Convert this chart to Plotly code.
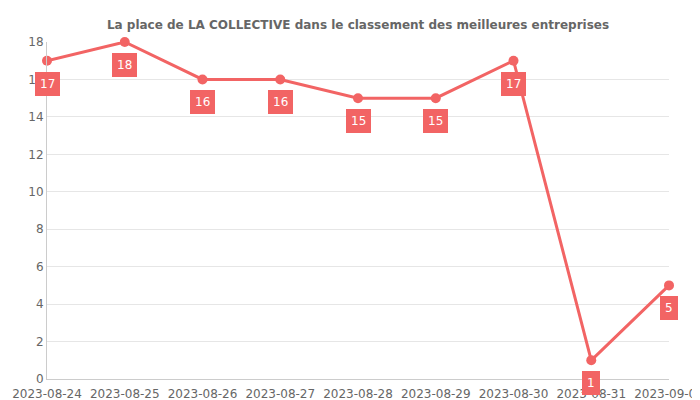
import plotly.graph_objects as go

dates = ["2023-08-24","2023-08-25","2023-08-26","2023-08-27","2023-08-28","2023-08-29","2023-08-30","2023-08-31","2023-09-01"]
ranks = [17,18,16,16,15,15,17,1,5]

color = "#f26464"
fig = go.Figure(go.Scatter(x=dates, y=ranks, mode="lines+markers",
    line=dict(color=color, width=3), marker=dict(size=10, color=color), cliponaxis=False))
for d, r in zip(dates, ranks):
    fig.add_annotation(x=d, y=r, text=str(r), showarrow=False, yshift=-23,
        bgcolor=color, bordercolor=color, borderpad=4,
        font=dict(color="white", size=12, family="DejaVu Sans"))
fig.update_layout(
    width=700, height=400, plot_bgcolor="white", paper_bgcolor="white",
    margin=dict(l=39, r=39, t=34, b=29, autoexpand=False), showlegend=False,
    title=dict(text="<b>La place de LA COLLECTIVE dans le classement des meilleures entreprises</b>",
               x=0.5, y=0.957, xanchor="center", yanchor="middle",
               font=dict(size=12, color="#666", family="DejaVu Sans")),
    font=dict(family="DejaVu Sans", size=12, color="#666"),
)
fig.update_xaxes(type="category", showgrid=False, showline=True, linecolor="#ccc",
                 range=[0, 8], ticks="outside", ticklen=4, tickcolor="white", automargin=False)
fig.update_yaxes(range=[0, 18], dtick=2, gridcolor="#e6e6e6", zeroline=False,
                 showline=True, linecolor="#ccc", automargin=False)
fig.write_html("out.html")
